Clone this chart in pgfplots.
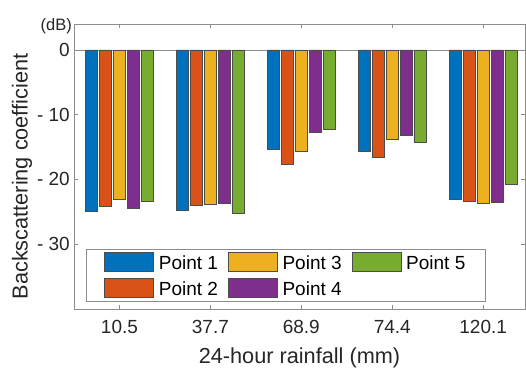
\documentclass[border=0pt]{standalone}
\usepackage{fontspec}
\setmainfont{Liberation Sans}
\usepackage{pgfplots}
\usepackage{pgfplotstable}
\pgfplotsset{compat=1.18}
\definecolor{c1}{RGB}{0,114,189}
\definecolor{c2}{RGB}{217,83,25}
\definecolor{c3}{RGB}{237,177,32}
\definecolor{c4}{RGB}{126,47,142}
\definecolor{c5}{RGB}{119,172,48}
\definecolor{axgray}{RGB}{140,140,140}

\pgfplotstableread{
x y
1 -24.9
2 -24.7
3 -15.4
4 -15.6
5 -23.1
}\pone
\pgfplotstableread{
x y
1 -24.2
2 -24.0
3 -17.7
4 -16.6
5 -23.3
}\ptwo
\pgfplotstableread{
x y
1 -23.0
2 -23.8
3 -15.7
4 -13.8
5 -23.6
}\pthree
\pgfplotstableread{
x y
1 -24.4
2 -23.7
3 -12.7
4 -13.1
5 -23.5
}\pfour
\pgfplotstableread{
x y
1 -23.4
2 -25.2
3 -12.3
4 -14.2
5 -20.8
}\pfive

\begin{document}
\begin{tikzpicture}
\begin{axis}[
  scale only axis, width=451pt, height=285pt,
  clip mode=individual,
  xmin=0.5, xmax=5.46, ymin=-40, ymax=4,
  xtick={1,2,3,4,5}, xticklabels={10.5,37.7,68.9,74.4,120.1},
  ytick={-30,-20,-10,0}, yticklabels={- 30,- 20,- 10,0},
  extra y ticks={0}, extra y tick labels={},
  extra y tick style={grid=major, major grid style={axgray, line width=0.8pt}},
  tick align=inside, major tick length=4pt,
  axis line style={axgray, line width=0.8pt},
  tick style={axgray, line width=0.8pt},
  ticklabel style={font=\fontsize{19}{21}\selectfont, text=black!85},
  yticklabel style={inner sep=0pt, xshift=-4pt},
  xticklabel style={yshift=-8pt},
  xlabel={24-hour rainfall (mm)},
  ylabel={Backscattering coefficient},
  label style={font=\fontsize{21.7}{23}\selectfont, text=black!85},
  xlabel style={at={(axis description cs:0.5,-0.172)}, anchor=center},
  ylabel style={at={(axis description cs:-0.115,0.465)}, anchor=center},
  mybar/.style={ybar, bar width=0.134, draw=black!70, line width=0.5pt,
    legend image code/.code={\draw[##1] (0pt,-8.1pt) rectangle (49pt,10.9pt);}},
  legend columns=3, legend cell align=left,
  legend style={at={(axis description cs:0.0266,0.024)}, anchor=south west,
    draw=axgray, line width=0.8pt, fill=white,
    font=\fontsize{19}{21}\selectfont,
    inner xsep=18pt, inner ysep=3pt, row sep=5pt,
    nodes={inner sep=2pt},
    /tikz/every odd column/.append style={column sep=3pt},
    /tikz/every even column/.append style={column sep=8pt}},
]
\addplot[mybar, fill=c1, bar shift=-0.306] table[x=x,y=y] {\pone};
\addlegendentry{Point 1}
\addplot[mybar, fill=c3, bar shift=0] table[x=x,y=y] {\pthree};
\addlegendentry{Point 3}
\addplot[mybar, fill=c5, bar shift=0.306] table[x=x,y=y] {\pfive};
\addlegendentry{Point 5}
\addplot[mybar, fill=c2, bar shift=-0.153] table[x=x,y=y] {\ptwo};
\addlegendentry{Point 2}
\addplot[mybar, fill=c4, bar shift=0.153] table[x=x,y=y] {\pfour};
\addlegendentry{Point 4}
\coordinate (sw) at (rel axis cs:0,0);
\coordinate (ne) at (rel axis cs:1,1);
\node[anchor=east, inner sep=0pt, font=\fontsize{16.5}{18}\selectfont, text=black!85, xshift=-2pt, yshift=-2pt] at (rel axis cs:0,1) {(dB)};
\end{axis}
\pgfresetboundingbox
\path[use as bounding box] ([shift={(-74pt,-62pt)}]sw) rectangle ([shift={(1pt,24pt)}]ne);
\end{tikzpicture}
\end{document}
